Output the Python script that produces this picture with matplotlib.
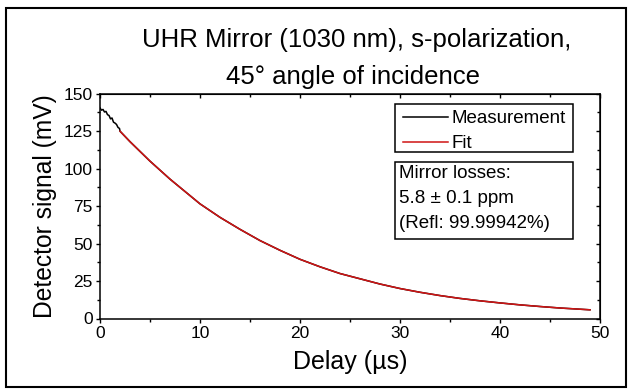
import numpy as np
import matplotlib as mpl
import matplotlib.pyplot as plt
from matplotlib.patches import Rectangle
from matplotlib.ticker import MultipleLocator

mpl.rcParams['font.family'] = ['Liberation Sans', 'DejaVu Sans']

# Noisy head of the measurement (visible before the fit starts)
meas_t_head = [0.0, 0.15, 0.3, 0.45, 0.6, 0.75, 0.9, 1.05, 1.2, 1.35,
               1.5, 1.65, 1.8, 1.95]
meas_v_head = [140.5, 139.0, 139.5, 137.8, 138.2, 136.0, 135.5, 133.2,
               133.8, 131.0, 130.4, 129.5, 127.5, 126.8]

# Fit values (delay in us, signal in mV)
fit_t = [2, 3, 4, 5, 6, 7, 8, 9, 10, 12, 14, 16, 18, 20, 22, 24, 26, 28,
         30, 32, 34, 36, 38, 40, 42, 44, 46, 48, 49]
fit_v = [125.0, 118.0, 111.5, 105.0, 99.0, 93.0, 87.5, 82.0, 76.5, 67.5,
         59.5, 52.0, 45.5, 39.5, 34.5, 30.0, 26.5, 23.0, 20.0, 17.5, 15.3,
         13.4, 11.8, 10.4, 9.1, 8.0, 7.0, 6.2, 5.8]

meas_t = meas_t_head + fit_t
meas_v = meas_v_head + fit_v

title_lines = ['UHR Mirror (1030 nm), s-polarization,', '45° angle of incidence']
info_lines = ['Mirror losses:', '5.8 ± 0.1 ppm', '(Refl: 99.99942%)']

W, H = 637, 392
fig = plt.figure(figsize=(W / 100, H / 100), dpi=100)
ax = fig.add_axes([100 / W, 1 - 318.5 / H, 500 / W, 224.8 / H])

ax.plot(meas_t, meas_v, color='black', lw=1.1, label='Measurement')
ax.plot(fit_t, fit_v, color='#d01414', lw=1.1, label='Fit')

ax.set_xlim(0, 50)
ax.set_ylim(0, 150)
ax.xaxis.set_major_locator(MultipleLocator(10))
ax.xaxis.set_minor_locator(MultipleLocator(5))
ax.yaxis.set_major_locator(MultipleLocator(25))
ax.yaxis.set_minor_locator(MultipleLocator(12.5))

for s in ax.spines.values():
    s.set_linewidth(1.1)
ax.tick_params(which='both', bottom=True, left=True, top=False, right=False,
               direction='out', width=1.0, labelsize=12.5, pad=2)
ax.tick_params(which='major', length=3.2)
ax.tick_params(which='minor', length=2.2)
# inward ticks on top and right
ax2 = ax.secondary_xaxis('top')
ax2.xaxis.set_major_locator(MultipleLocator(10))
ax2.xaxis.set_minor_locator(MultipleLocator(5))
ax2.tick_params(which='both', direction='in', width=1.0, labeltop=False)
ax2.tick_params(which='major', length=3.2)
ax2.tick_params(which='minor', length=2.2)
ax3 = ax.secondary_yaxis('right')
ax3.yaxis.set_major_locator(MultipleLocator(25))
ax3.yaxis.set_minor_locator(MultipleLocator(12.5))
ax3.tick_params(which='both', direction='in', width=1.0, labelright=False)
ax3.tick_params(which='major', length=3.2)
ax3.tick_params(which='minor', length=2.2)

ax.set_xlabel('Delay (µs)', fontsize=18, labelpad=7)
ax.set_ylabel('Detector signal (mV)', fontsize=17.7, labelpad=5)

def ay(py):
    # pixel row -> axes fraction
    return (318.5 - py) / 224.8

# legend (frame drawn separately so its size matches)
leg = ax.legend(loc='upper left', bbox_to_anchor=(0.59, ay(102.7)),
                fontsize=13.5, frameon=False,
                handlelength=2.4, handletextpad=0.2, labelspacing=0.42,
                borderpad=0.4, borderaxespad=0)
for h in leg.get_lines():
    h.set_linewidth(1.1)
ax.add_patch(Rectangle((0.59, ay(151.7)), 0.355, ay(104) - ay(151.7),
                       transform=ax.transAxes, fill=False,
                       edgecolor='black', lw=1.1, zorder=5))

# info box
ax.add_patch(Rectangle((0.59, ay(239.3)), 0.355, ay(161.7) - ay(239.3),
                       transform=ax.transAxes, fill=False,
                       edgecolor='black', lw=1.1, zorder=5))
for i, line in enumerate(info_lines):
    ax.text(0.598, ay(173 + 25.2 * i), line,
            transform=ax.transAxes, fontsize=13.5, va='center', ha='left')

fig.text(357 / W, 1 - 40 / H, title_lines[0], fontsize=18.5,
         ha='center', va='center')
fig.text(353 / W, 1 - 77 / H, title_lines[1], fontsize=18.5,
         ha='center', va='center')

# outer frame
fig.patches.append(Rectangle((6 / W, 1 - 387 / H), 620 / W, 379 / H,
                             transform=fig.transFigure, fill=False,
                             edgecolor='black', lw=1.5))

fig.savefig('out.png', dpi=100)
